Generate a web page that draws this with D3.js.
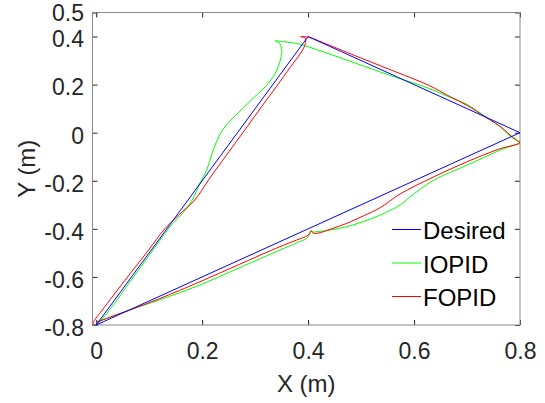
<!DOCTYPE html>
<html>
<head>
<meta charset="utf-8">
<script src="https://cdn.jsdelivr.net/npm/d3@7"></script>
<style>
  html, body { margin: 0; padding: 0; background: #fff; }
  svg { display: block; }
  text { font-family: "Liberation Sans", Arial, Helvetica, sans-serif; }
</style>
</head>
<body>
<svg id="chart" width="545" height="403"></svg>
<script>
// Trajectory data in metres, [x, y]
const desired = [
  [0.0, -0.8], [0.4, 0.4], [0.8, 0.0], [0.0, -0.8]
];

const iopid = [
  [0.002, -0.797], [0.020, -0.752], [0.060, -0.632], [0.100, -0.510],
  [0.140, -0.390], [0.165, -0.330], [0.1815, -0.280], [0.1958, -0.2096],
  [0.2089, -0.1543], [0.2189, -0.0848], [0.2287, -0.0295], [0.2385, 0.0112],
  [0.2545, 0.0528], [0.2736, 0.0944], [0.2994, 0.1497], [0.3249, 0.2055],
  [0.341, 0.2608], [0.349, 0.3161], [0.350, 0.351], [0.345, 0.3744],
  [0.3376, 0.3815],
  [0.364, 0.376], [0.383, 0.369], [0.4264, 0.3378], [0.489, 0.2896],
  [0.5515, 0.2409], [0.6266, 0.1855], [0.668, 0.147], [0.699, 0.119],
  [0.7245, 0.0825], [0.743, 0.055], [0.762, 0.0265], [0.775, -0.002],
  [0.787, -0.023], [0.797, -0.037], [0.800, -0.040],
  [0.762, -0.073], [0.699, -0.136], [0.636, -0.199], [0.592, -0.268],
  [0.5736, -0.301], [0.536, -0.343], [0.504, -0.370], [0.473, -0.391],
  [0.4415, -0.405], [0.4164, -0.412], [0.408, -0.413], [0.405, -0.408],
  [0.404, -0.418], [0.3975, -0.439], [0.379, -0.4575], [0.347, -0.488],
  [0.270, -0.562], [0.196, -0.6335], [0.120, -0.695], [0.064, -0.737],
  [0.030, -0.765], [0.010, -0.780], [0.002, -0.786]
];

const fopid = [
  [0.000, -0.800], [-0.006, -0.793], [-0.004, -0.783], [0.0113, -0.738],
  [0.0547, -0.613], [0.099, -0.488], [0.1274, -0.405], [0.1560, -0.342],
  [0.1860, -0.280], [0.2120, -0.197], [0.2390, -0.114], [0.2620, -0.0445],
  [0.2850, 0.025], [0.3120, 0.108], [0.3400, 0.191], [0.3670, 0.2745],
  [0.3857, 0.330], [0.3940, 0.365], [0.3955, 0.386], [0.3925, 0.397],
  [0.386, 0.399],
  [0.402, 0.397], [0.4266, 0.376], [0.4891, 0.320], [0.5517, 0.265],
  [0.6266, 0.198], [0.668, 0.150], [0.699, 0.115], [0.737, 0.062],
  [0.762, 0.027], [0.781, -0.009], [0.794, -0.031], [0.799, -0.038],
  [0.801, -0.030], [0.800, -0.042],
  [0.762, -0.067], [0.699, -0.122], [0.636, -0.185], [0.5736, -0.255],
  [0.536, -0.312], [0.504, -0.3465], [0.473, -0.377], [0.4415, -0.402],
  [0.4226, -0.416], [0.410, -0.4185], [0.4057, -0.4077], [0.4006, -0.4255],
  [0.3787, -0.4463], [0.347, -0.474], [0.270, -0.548], [0.196, -0.620],
  [0.120, -0.690], [0.064, -0.737], [0.030, -0.764], [0.010, -0.781],
  [0.000, -0.790]
];

const xTicks = [0, 0.2, 0.4, 0.6, 0.8];
const yTicks = [-0.8, -0.6, -0.4, -0.2, 0, 0.2, 0.4, 0.5];
const seriesNames = ["Desired", "IOPID", "FOPID"];
const seriesColors = ["#0000ff", "#00ff00", "#ff0000"];

// Plot-area layout
const plotLeft = 92.5, plotRight = 520, plotTop = 12.5, plotBottom = 325;
const tickFontSize = 23;
const svg = d3.select("#chart");

const x = d3.scaleLinear().domain([-0.007, 0.8]).range([plotLeft, plotRight]);
const y = d3.scaleLinear().domain([-0.8, 0.5]).range([plotBottom, plotTop]);

svg.append("defs").append("clipPath").attr("id", "plotClip")
  .append("rect")
  .attr("x", plotLeft).attr("y", plotTop)
  .attr("width", plotRight - plotLeft).attr("height", plotBottom - plotTop);

// Tick labels use a plain hyphen for negatives
const fmt = d => (d === 0 ? "0" : d.toFixed(1));
const tickColor = "#262626";

function styleAxis(g) {
  g.select(".domain").remove();
  g.selectAll(".tick line").attr("stroke", tickColor).attr("stroke-width", 1);
  g.selectAll(".tick text")
    .attr("fill", "#262626")
    .style("font-size", tickFontSize + "px")
    .style("font-family", '"Liberation Sans", Arial, Helvetica, sans-serif');
}

svg.append("g")
  .attr("transform", `translate(0,${plotBottom})`)
  .call(d3.axisBottom(x).tickValues(xTicks).tickFormat(fmt)
    .tickSizeInner(-5).tickSizeOuter(0).tickPadding(18))
  .call(styleAxis);

svg.append("g")
  .attr("transform", `translate(0,${plotTop})`)
  .call(d3.axisTop(x).tickValues(xTicks).tickFormat("")
    .tickSizeInner(-5).tickSizeOuter(0))
  .call(styleAxis);

const gLeft = svg.append("g")
  .attr("transform", `translate(${plotLeft},0)`)
  .call(d3.axisLeft(y).tickValues(yTicks).tickFormat(fmt)
    .tickSizeInner(-5).tickSizeOuter(0).tickPadding(8.5))
  .call(styleAxis);
gLeft.selectAll(".tick text").attr("dy", d => (d === 0.5 ? "0.36em" : "0.45em"));

svg.append("g")
  .attr("transform", `translate(${plotRight},0)`)
  .call(d3.axisRight(y).tickValues(yTicks).tickFormat("")
    .tickSizeInner(-5).tickSizeOuter(0))
  .call(styleAxis);

// Axes box
svg.append("rect")
  .attr("x", plotLeft).attr("y", plotTop)
  .attr("width", plotRight - plotLeft).attr("height", plotBottom - plotTop)
  .attr("fill", "none").attr("stroke", "#8a8a8a").attr("stroke-width", 1);

// Trajectories
const smoothLine = d3.line()
  .x(d => x(d[0]))
  .y(d => y(d[1]))
  .curve(d3.curveCatmullRom.alpha(0.5));
const straightLine = d3.line()
  .x(d => x(d[0]))
  .y(d => y(d[1]));

const plot = svg.append("g").attr("clip-path", "url(#plotClip)");
const allSeries = [desired, iopid, fopid];
[1, 2, 0].forEach(i => {
  plot.append("path")
    .datum(allSeries[i])
    .attr("fill", "none")
    .attr("stroke", seriesColors[i])
    .attr("stroke-width", 1)
    .attr("stroke-linejoin", "round")
    .attr("d", i === 0 ? straightLine : smoothLine);
});

// Legend (no box)
const legend = svg.append("g");
const legendX0 = 392, legendX1 = 421, legendY0 = 229.5, legendStep = 33.5;
seriesNames.forEach((name, i) => {
  const ly = legendY0 + i * legendStep;
  legend.append("line")
    .attr("x1", legendX0).attr("x2", legendX1)
    .attr("y1", ly).attr("y2", ly)
    .attr("stroke", seriesColors[i]).attr("stroke-width", 1);
  legend.append("text")
    .attr("x", legendX1 + 2).attr("y", ly + 9.5)
    .attr("fill", "#000")
    .style("font-size", "24px")
    .text(name);
});

// Axis labels
svg.append("text")
  .attr("x", (plotLeft + plotRight) / 2).attr("y", 392)
  .attr("text-anchor", "middle")
  .attr("fill", "#262626")
  .style("font-size", "24px")
  .text("X (m)");

svg.append("text")
  .attr("transform", `translate(35,${(plotTop + plotBottom) / 2}) rotate(-90)`)
  .attr("text-anchor", "middle")
  .attr("fill", "#262626")
  .style("font-size", "24px")
  .text("Y (m)");
</script>
</body>
</html>
